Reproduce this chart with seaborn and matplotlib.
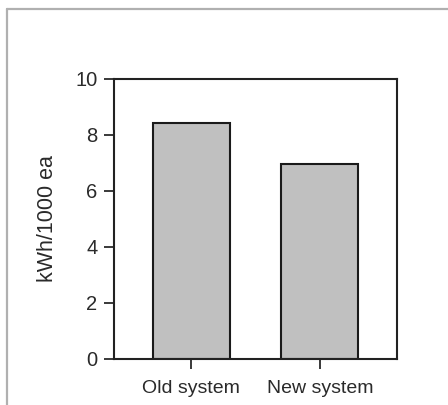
import numpy as np
import pandas as pd
import seaborn as sns
import matplotlib.pyplot as plt
from matplotlib.lines import Line2D

# values
systems = ["Old system", "New system"]
energy = [8.43, 6.95]

sns.set_style("ticks")
plt.rcParams['font.family'] = ['Liberation Sans', 'DejaVu Sans']

fig = plt.figure(figsize=(4.48, 4.05), dpi=100)
ax = fig.add_axes([114/448, 1 - 359/405, 283/448, 280/405])

df = pd.DataFrame({"system": systems, "energy": energy})
sns.barplot(data=df, x="system", y="energy", color="#c0c0c0", saturation=1,
            edgecolor="#1a1a1a", linewidth=1.5, width=0.6, ax=ax)

ax.set_xlim(-0.6, 1.6)
ax.set_ylim(0, 10)
ax.set_yticks([0, 2, 4, 6, 8, 10])
ax.set_xlabel("")
ax.set_ylabel("kWh/1000 ea", fontsize=15.5, color="#2a2a2a", labelpad=12)
ax.tick_params(axis="y", labelsize=14.5, colors="#2a2a2a", length=7, width=1.3, pad=5)
ax.tick_params(axis="x", labelsize=14, colors="#2a2a2a", length=7, width=1.3, pad=8)
for s in ax.spines.values():
    s.set_visible(True)
    s.set_linewidth(1.5)
    s.set_color("#222222")

# thin gray page frame (top and left only)
fig.add_artist(Line2D([6.5/448, 6.5/448], [0, 1 - 9/405], transform=fig.transFigure,
                      color="#b0b0b0", lw=1.6))
fig.add_artist(Line2D([6.5/448, 1], [1 - 9/405, 1 - 9/405], transform=fig.transFigure,
                      color="#b0b0b0", lw=1.6))

fig.savefig("out.png", dpi=100)
